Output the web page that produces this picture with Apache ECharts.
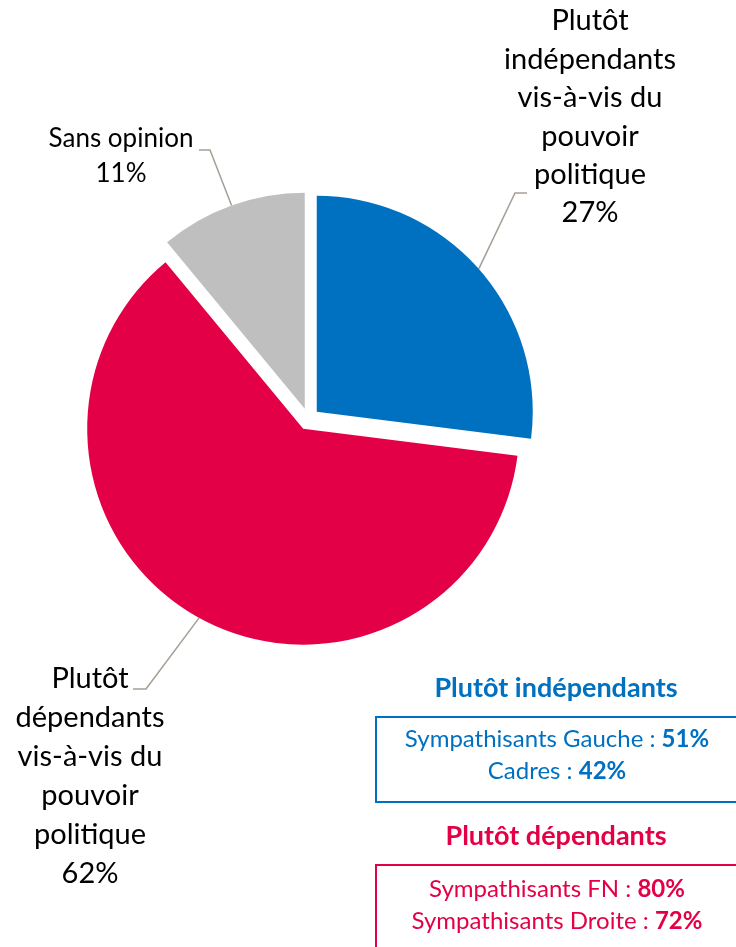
<!DOCTYPE html>
<html>
<head>
<meta charset="utf-8">
<script src="https://cdn.jsdelivr.net/npm/echarts@6/dist/echarts.min.js"></script>
<style>
html,body{margin:0;padding:0;background:#fff;}
#main{width:736px;height:947px;}
</style>
</head>
<body>
<div id="main"></div>
<script>
// ---- data ----
const categories = ['Plutôt indépendants vis-à-vis du pouvoir politique', 'Plutôt dépendants vis-à-vis du pouvoir politique', 'Sans opinion'];
const labelTexts = ['Plutôt\nindépendants\nvis-à-vis du\npouvoir\npolitique', 'Plutôt\ndépendants\nvis-à-vis du\npouvoir\npolitique', 'Sans opinion'];
const values = [27, 62, 11];
const colors = ['#0070c0', '#e40046', '#bfbfbf'];

const indepTitle = 'Plutôt indépendants';
const indepGroups = ['Sympathisants Gauche', 'Cadres'];
const indepValues = [51, 42];
const depTitle = 'Plutôt dépendants';
const depGroups = ['Sympathisants FN', 'Sympathisants Droite'];
const depValues = [80, 72];

// ---- layout (not data) ----
const FONT = 'Lato, "Noto Sans", sans-serif';
const C = [308.5, 419], R = 216, OFF = 11;
const labelPos = [
  {x: 590, y: 117, lh: 38.4, fs: 29, bend: [[515, 193], [527, 193]]},
  {x: 90, y: 776.5, lh: 39, fs: 29, bend: [[146, 689], [133, 689]]},
  {x: 121, y: 156.5, lh: 35, fs: 26, bend: [[210, 150], [199, 150]]}
];

const total = values.reduce((a, b) => a + b, 0);
let cum = 0;
const dirs = values.map(v => {
  const mid = (cum + v / 2) / total;
  cum += v;
  const th = 2 * Math.PI * mid;
  return [Math.sin(th), -Math.cos(th)];
});

const series = values.map((v, i) => {
  const cx = C[0] + OFF * dirs[i][0], cy = C[1] + OFF * dirs[i][1];
  return {
    type: 'pie',
    center: [cx, cy],
    radius: [0, R],
    startAngle: 90,
    clockwise: true,
    silent: true,
    animation: false,
    avoidLabelOverlap: false,
    data: values.map((vv, j) => ({
      value: vv,
      name: categories[j],
      itemStyle: {color: j === i ? colors[j] : 'rgba(0,0,0,0)'},
      label: {show: j === i},
      labelLine: {show: j === i}
    })),
    label: {
      show: true,
      position: 'outside',
      color: '#000',
      fontFamily: FONT,
      fontSize: labelPos[i].fs,
      lineHeight: labelPos[i].lh,
      align: 'center',
      formatter: p => labelTexts[p.dataIndex] + '\n' + p.value + '%'
    },
    labelLine: {show: true, length: 20, length2: 10, lineStyle: {color: '#a59e94', width: 1.5}},
    labelLayout: function (p) {
      const lp = labelPos[i];
      const edge = [cx + R * dirs[i][0], cy + R * dirs[i][1]];
      return {
        x: lp.x, y: lp.y, align: 'center', verticalAlign: 'middle',
        labelLinePoints: [edge, lp.bend[0], lp.bend[1]]
      };
    }
  };
});

function boxLines(groups, vals) {
  return groups.map((g, k) => g + ' : {b|' + vals[k] + '%}').join('\n');
}

const chart = echarts.init(document.getElementById('main'), null, {renderer: 'canvas'});
chart.setOption({
  backgroundColor: '#fff',
  animation: false,
  series: series,
  graphic: [
    {type: 'text', x: 556, y: 688, style: {text: indepTitle, fill: '#0070c0', font: 'bold 27px ' + FONT, textAlign: 'center', textVerticalAlign: 'middle'}},
    {type: 'rect', shape: {x: 376, y: 717, width: 400, height: 85}, style: {fill: 'none', stroke: '#0070c0', lineWidth: 2}},
    {type: 'text', x: 557, y: 755, style: {
      text: boxLines(indepGroups, indepValues), fill: '#0070c0', fontFamily: FONT, fontSize: 24, lineHeight: 32,
      align: 'center', verticalAlign: 'middle',
      rich: {b: {fontWeight: 'bold', fontFamily: FONT, fontSize: 24, fill: '#0070c0', lineHeight: 32}}
    }},
    {type: 'text', x: 556, y: 836, style: {text: depTitle, fill: '#e40046', font: 'bold 27px ' + FONT, textAlign: 'center', textVerticalAlign: 'middle'}},
    {type: 'rect', shape: {x: 376, y: 865, width: 400, height: 200}, style: {fill: 'none', stroke: '#e40046', lineWidth: 2}},
    {type: 'text', x: 557, y: 905, style: {
      text: boxLines(depGroups, depValues), fill: '#e40046', fontFamily: FONT, fontSize: 24, lineHeight: 32,
      align: 'center', verticalAlign: 'middle',
      rich: {b: {fontWeight: 'bold', fontFamily: FONT, fontSize: 24, fill: '#e40046', lineHeight: 32}}
    }}
  ]
});
</script>
</body>
</html>
